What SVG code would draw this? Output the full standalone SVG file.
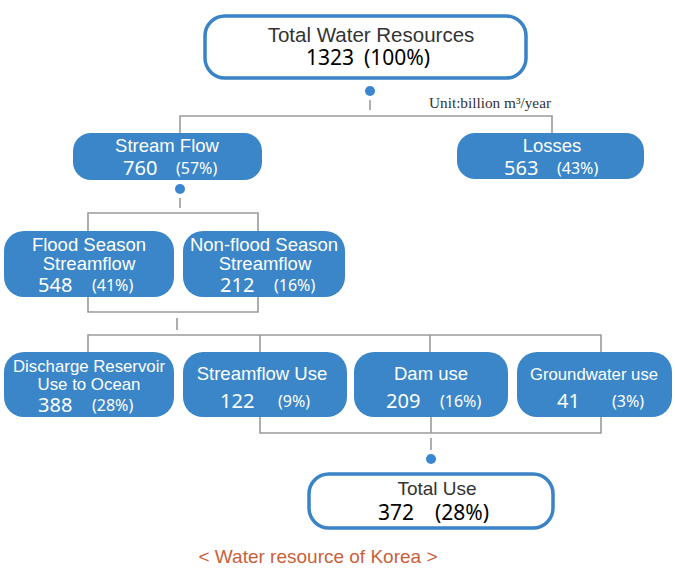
<svg xmlns="http://www.w3.org/2000/svg" width="675" height="581" viewBox="0 0 675 581">
<style>
.box{fill:#3a86c8;}
.obox{fill:#fff;stroke:#3a83c6;stroke-width:3.5;}
.t{font-family:"Liberation Sans",Arial,sans-serif;font-size:18.5px;fill:#fff;text-anchor:middle;}
.ts{font-size:17px;}
.n{font-family:"Noto Sans","Open Sans",sans-serif;font-size:20px;fill:#fff;}
.p{font-family:"Noto Sans","Open Sans",sans-serif;font-size:16px;fill:#fff;}
.dt{font-family:"Liberation Sans",Arial,sans-serif;fill:#333;text-anchor:middle;}
.dn{font-family:"Noto Sans","Open Sans",sans-serif;font-size:21px;fill:#000;}
.c{fill:none;stroke:#9a9a9a;stroke-width:1.6;}
.dot{fill:#3a86d0;}
</style>
<rect width="675" height="581" fill="#fff"/>
<g id="connectors">
  <circle class="dot" cx="370" cy="91" r="5"/>
  <path class="c" d="M370 100V110M180 133V116H552V133"/>
  <circle class="dot" cx="180" cy="189" r="5"/>
  <path class="c" d="M180 198V208M88 231V213H258V231"/>
  <path class="c" d="M88 297V312H258V297M177 318V330"/>
  <path class="c" d="M88 352V335H601V352M260 335V352M430 335V352"/>
  <path class="c" d="M260 417V433H601V417M431 417V433M431 438V450"/>
  <circle class="dot" cx="431" cy="459" r="5"/>
</g>
<g id="total-water">
  <rect class="obox" x="205" y="16" width="321" height="62" rx="20"/>
  <text class="dt" x="371" y="42" font-size="20.5">Total Water Resources</text>
  <text class="dn" x="306" y="65">1323</text>
  <text class="dn" x="364" y="65">(100%)</text>
</g>
<text x="429" y="108" font-family="'Liberation Serif','Times New Roman',serif" font-size="14.5" fill="#333" textLength="122" lengthAdjust="spacingAndGlyphs">Unit:billion m³/year</text>
<g id="stream-flow">
  <rect class="box" x="73" y="133" width="189" height="47" rx="18"/>
  <text class="t" x="167" y="152">Stream Flow</text>
  <text class="n" x="123" y="175">760</text>
  <text class="p" x="176" y="174">(57%)</text>
</g>
<g id="losses">
  <rect class="box" x="457" y="133" width="187" height="46" rx="18"/>
  <text class="t" x="552" y="152">Losses</text>
  <text class="n" x="504" y="175">563</text>
  <text class="p" x="557" y="174">(43%)</text>
</g>
<g id="flood">
  <rect class="box" x="4" y="231" width="170" height="66" rx="20"/>
  <text class="t" x="89" y="251">Flood Season</text>
  <text class="t" x="89" y="270">Streamflow</text>
  <text class="n" x="38" y="292">548</text>
  <text class="p" x="92" y="291">(41%)</text>
</g>
<g id="non-flood">
  <rect class="box" x="183" y="231" width="162" height="66" rx="20"/>
  <text class="t" x="264" y="251">Non-flood Season</text>
  <text class="t" x="265" y="270">Streamflow</text>
  <text class="n" x="220" y="292">212</text>
  <text class="p" x="274" y="291">(16%)</text>
</g>
<g id="discharge">
  <rect class="box" x="4" y="352" width="170" height="65" rx="20"/>
  <text class="t ts" x="89" y="372" textLength="152" lengthAdjust="spacingAndGlyphs">Discharge Reservoir</text>
  <text class="t ts" x="89" y="390" textLength="103" lengthAdjust="spacingAndGlyphs">Use to Ocean</text>
  <text class="n" x="38" y="412">388</text>
  <text class="p" x="92" y="411">(28%)</text>
</g>
<g id="streamflow-use">
  <rect class="box" x="183" y="352" width="164" height="65" rx="20"/>
  <text class="t" x="262" y="380">Streamflow Use</text>
  <text class="n" x="220" y="408">122</text>
  <text class="p" x="278" y="407">(9%)</text>
</g>
<g id="dam-use">
  <rect class="box" x="354" y="352" width="154" height="65" rx="20"/>
  <text class="t" x="431" y="380">Dam use</text>
  <text class="n" x="386" y="408">209</text>
  <text class="p" x="440" y="407">(16%)</text>
</g>
<g id="groundwater-use">
  <rect class="box" x="517" y="352" width="155" height="65" rx="20"/>
  <text class="t ts" x="594" y="380" textLength="128" lengthAdjust="spacingAndGlyphs">Groundwater use</text>
  <text class="n" x="557" y="408">41</text>
  <text class="p" x="612" y="407">(3%)</text>
</g>
<g id="total-use">
  <rect class="obox" x="309" y="474" width="244" height="54" rx="20"/>
  <text class="dt" x="437" y="495" font-size="19">Total Use</text>
  <text class="dn" x="378" y="520">372</text>
  <text class="dn" x="435" y="520">(28%)</text>
</g>
<text x="318" y="563" font-family="'Liberation Sans',Arial,sans-serif" font-size="19" fill="#c8613a" text-anchor="middle">&lt; Water resource of Korea &gt;</text>
</svg>
